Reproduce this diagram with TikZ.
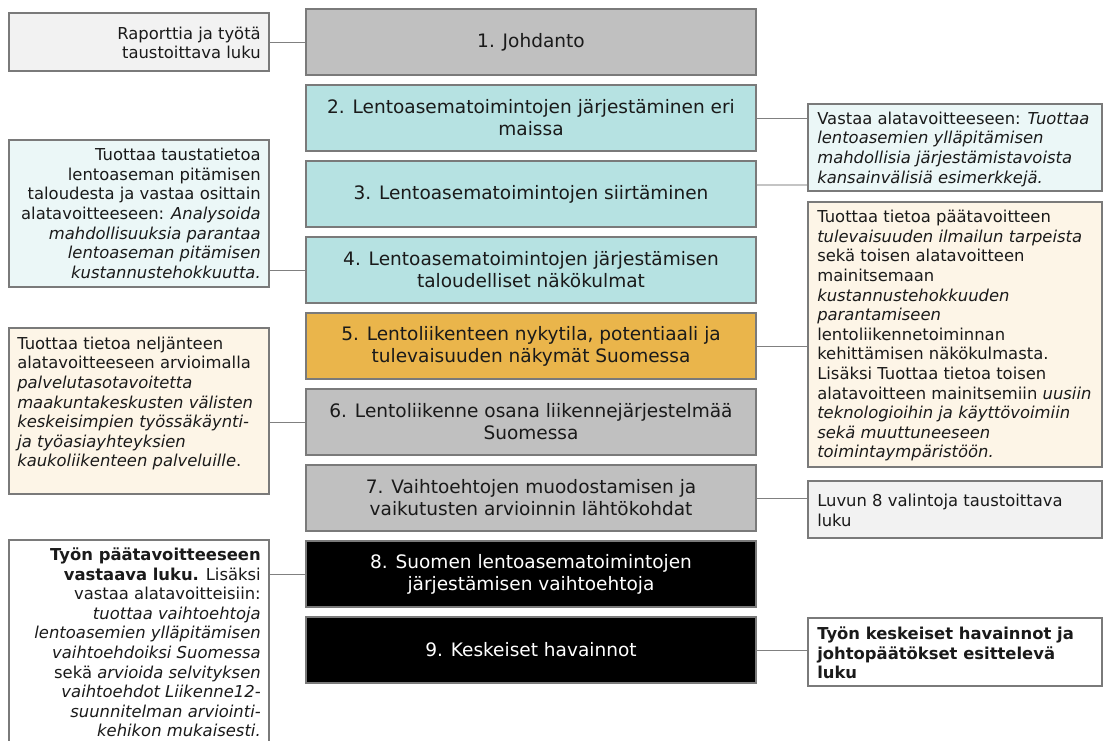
\documentclass[tikz,border=0pt]{standalone}
\usepackage{fontspec}
\setmainfont{DejaVu Sans}
\usetikzlibrary{positioning,calc}
\definecolor{RPGray}{HTML}{C0C0C0}
\definecolor{RPCyan}{HTML}{B6E2E2}
\definecolor{RPAmber}{HTML}{EAB54B}
\definecolor{RPNoteGray}{HTML}{F2F2F2}
\definecolor{RPNoteCyan}{HTML}{EBF7F7}
\definecolor{RPNoteCream}{HTML}{FDF5E7}
\definecolor{RPFrame}{HTML}{7A7A7A}
\definecolor{RPLink}{HTML}{808080}
\definecolor{RPLinkLight}{HTML}{C4C4C4}
\definecolor{RPInk}{HTML}{1A1A1A}
\tikzset{
  chapter/.style={draw=RPFrame,line width=0.8pt,fill=RPGray,text=RPInk,
                  minimum width=337.5pt,minimum height=49.5pt,inner sep=0pt,
                  align=center,font=\fontsize{13.9}{16.5}\selectfont},
  chaptercyan/.style={chapter,fill=RPCyan},
  chapteramber/.style={chapter,fill=RPAmber},
  chapterdark/.style={chapter,fill=black,text=white},
  note/.style={draw=RPFrame,line width=0.8pt,fill=white,minimum width=195pt,inner sep=0pt},
  notewide/.style={note,minimum width=220.5pt},
  notetext/.style={text=RPInk,inner sep=0pt,font=\fontsize{12.3}{14.7}\selectfont},
  link/.style={RPLink,line width=0.7pt},
  linklight/.style={RPLinkLight,line width=0.9pt},
}
\begin{document}
\begin{tikzpicture}[x=0.75pt,y=-0.75pt]
    \useasboundingbox (0,0) rectangle (1103,740);
    % the chapters of the report
    \node[chapter]      (johdanto)    at (531,42)  {1. Johdanto};
    \node[chaptercyan]  (maat)        at (531,118) {2. Lentoasematoimintojen järjestäminen eri\\maissa};
    \node[chaptercyan]  (siirto)      at (531,194) {3. Lentoasematoimintojen siirtäminen};
    \node[chaptercyan]  (talous)      at (531,270) {4. Lentoasematoimintojen järjestämisen\\taloudelliset näkökulmat};
    \node[chapteramber] (nykytila)    at (531,346) {5. Lentoliikenteen nykytila, potentiaali ja\\tulevaisuuden näkymät Suomessa};
    \node[chapter]      (jarjestelma) at (531,422) {6. Lentoliikenne osana liikennejärjestelmää\\Suomessa};
    \node[chapter]      (lahtokohdat) at (531,498) {7. Vaihtoehtojen muodostamisen ja\\vaikutusten arvioinnin lähtökohdat};
    \node[chapterdark]  (vaihtoehdot) at (531,574) {8. Suomen lentoasematoimintojen\\järjestämisen vaihtoehtoja};
    \node[chapterdark]  (havainnot)   at (531,650) {9. Keskeiset havainnot};

    % notes on the left
    \node[note,fill=RPNoteGray,minimum height=43.5pt] (raportti) at (139,42) {};
    \node[notetext,anchor=north east,align=right] (raporttiT) at (261,26.5)
      {Raporttia ja työtä\\taustoittava luku};
    \node[note,fill=RPNoteCyan,minimum height=110.25pt] (taustatieto) at (139,213.5) {};
    \node[notetext,anchor=north east,align=right] (taustatietoT) at (261,148)
      {Tuottaa taustatietoa\\lentoaseman pitämisen\\taloudesta ja vastaa osittain\\
       alatavoitteeseen: \textit{Analysoida}\\\textit{mahdollisuuksia parantaa}\\
       \textit{lentoaseman pitämisen}\\\textit{kustannustehokkuutta.}};
    \node[note,fill=RPNoteCream,minimum height=124.5pt] (neljas) at (139,411) {};
    \node[notetext,anchor=north west,align=left] (neljasT) at (17,336.5)
      {Tuottaa tietoa neljänteen\\alatavoitteeseen arvioimalla\\\textit{palvelutasotavoitetta}\\
       \textit{maakuntakeskusten välisten}\\\textit{keskeisimpien työssäkäynti-}\\
       \textit{ja työasiayhteyksien}\\\textit{kaukoliikenteen palveluille}.};
    \node[note,minimum height=157.5pt] (paatavoite) at (139,645) {};
    \node[notetext,anchor=north east,align=right] (paatavoiteT) at (261,547.5)
      {\textbf{Työn päätavoitteeseen}\\\textbf{vastaava luku.} Lisäksi\\vastaa alatavoitteisiin:\\
       \textit{tuottaa vaihtoehtoja}\\\textit{lentoasemien ylläpitämisen}\\
       \textit{vaihtoehdoiksi Suomessa}\\sekä \textit{arvioida selvityksen}\\
       \textit{vaihtoehdot Liikenne12-}\\\textit{suunnitelman arviointi-}\\\textit{kehikon mukaisesti.}};

    % notes on the right
    \node[notewide,fill=RPNoteCyan,minimum height=65.25pt] (esimerkit) at (955,147.5) {};
    \node[notetext,anchor=north west,align=left] (esimerkitT) at (817,111.5)
      {Vastaa alatavoitteeseen: \textit{Tuottaa}\\\textit{lentoasemien ylläpitämisen}\\
       \textit{mahdollisia järjestämistavoista}\\\textit{kansainvälisiä esimerkkejä.}};
    \node[notewide,fill=RPNoteCream,minimum height=198.75pt] (tulevaisuus) at (955,334.5) {};
    \node[notetext,anchor=north west,align=left] (tulevaisuusT) at (817,210)
      {Tuottaa tietoa päätavoitteen\\\textit{tulevaisuuden ilmailun tarpeista}\\
       sekä toisen alatavoitteen\\mainitsemaan\\\textit{kustannustehokkuuden}\\
       \textit{parantamiseen}\\lentoliikennetoiminnan\\kehittämisen näkökulmasta.\\
       Lisäksi Tuottaa tietoa toisen\\alatavoitteen mainitsemiin \textit{uusiin}\\
       \textit{teknologioihin ja käyttövoimiin}\\\textit{sekä muuttuneeseen}\\
       \textit{toimintaympäristöön.}};
    \node[notewide,fill=RPNoteGray,minimum height=42.75pt] (valinnat) at (955,509.5) {};
    \node[notetext,anchor=north west,align=left] (valinnatT) at (817,494)
      {Luvun 8 valintoja taustoittava\\luku};
    \node[notewide,minimum height=51pt] (johtopaatos) at (955,652) {};
    \node[notetext,anchor=north west,align=left,font=\fontsize{12.3}{14.7}\selectfont\bfseries]
      (johtopaatosT) at (817,626.5)
      {Työn keskeiset havainnot ja\\johtopäätökset esittelevä\\luku};

    % connectors
    \draw[link] (raportti.east) -- (johdanto.west);
    \draw[link] (talous.west) -- (talous.west -| taustatieto.east);
    \draw[link] (jarjestelma.west) -- (jarjestelma.west -| neljas.east);
    \draw[link] (vaihtoehdot.west) -- (vaihtoehdot.west -| paatavoite.east);
    \draw[link] (maat.east) -- (maat.east -| esimerkit.west);
    \draw[linklight] ([yshift=6.75pt]siirto.east) -- ([yshift=6.75pt]siirto.east -| esimerkit.west);
    \draw[link] (nykytila.east) -- (nykytila.east -| tulevaisuus.west);
    \draw[link] (lahtokohdat.east) -- (lahtokohdat.east -| valinnat.west);
    \draw[link] (havainnot.east) -- (havainnot.east -| johtopaatos.west);
  \end{tikzpicture}
\end{document}
